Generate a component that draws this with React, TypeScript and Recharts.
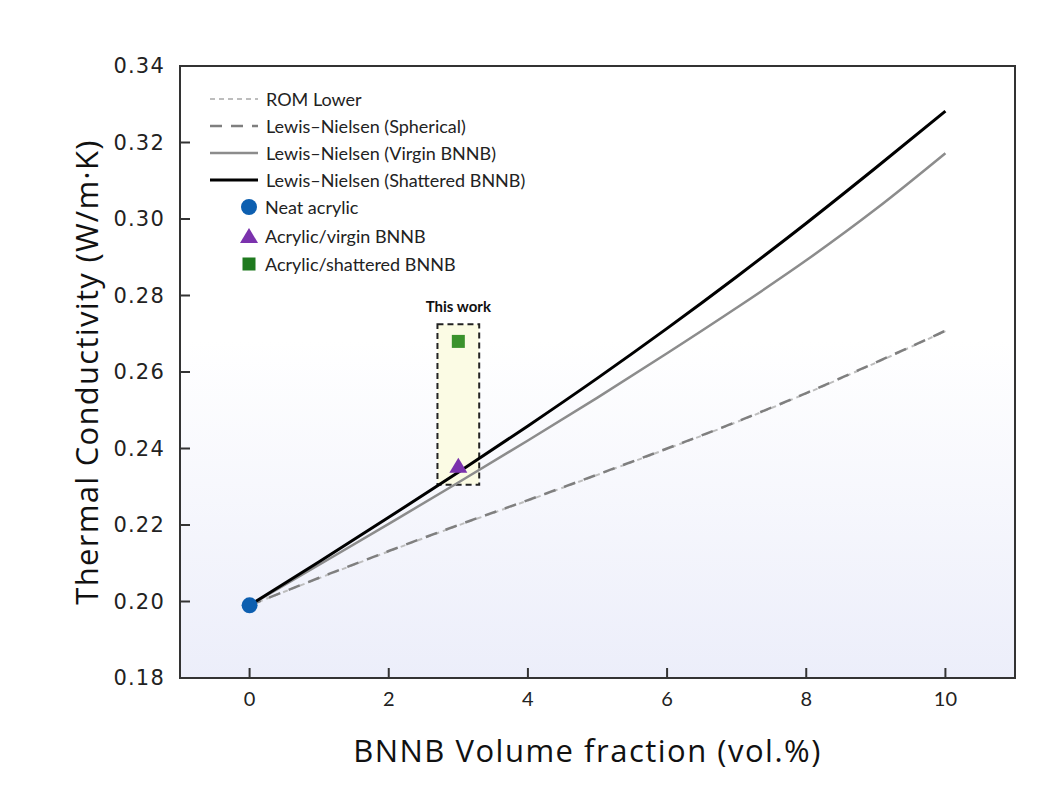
import { ComposedChart, Line, Scatter, XAxis, YAxis, ReferenceArea, CartesianGrid, Label } from "recharts"

// BNNB loading (vol.%) and model predictions of thermal conductivity (W/m·K)
const volFraction = [0, 1, 2, 3, 4, 5, 6, 7, 8, 9, 10]
const romLower = [0.199, 0.2061, 0.2131, 0.2199, 0.2264, 0.2331, 0.2399, 0.2469, 0.2544, 0.2624, 0.2707]
const lnSpherical = [0.199, 0.2062, 0.2132, 0.22, 0.2265, 0.2332, 0.24, 0.247, 0.2545, 0.2625, 0.2708]
const lnVirgin = [0.199, 0.2096, 0.2203, 0.2311, 0.2421, 0.2533, 0.2649, 0.2768, 0.2892, 0.3026, 0.3172]
const lnShattered = [0.199, 0.2104, 0.222, 0.2338, 0.2459, 0.2584, 0.2714, 0.2849, 0.2989, 0.3134, 0.3282]

// measured samples
const neatAcrylic = [{ x: 0, y: 0.199 }]
const acrylicVirgin = [{ x: 3, y: 0.2355 }]
const acrylicShattered = [{ x: 3, y: 0.268 }]

// "This work" highlight box
const thisWorkX = [2.7, 3.3]
const thisWorkY = [0.2305, 0.2725]

const xTicks = [0, 2, 4, 6, 8, 10]
const yTicks = [0.18, 0.2, 0.22, 0.24, 0.26, 0.28, 0.3, 0.32, 0.34]

const modelData = volFraction.map((x, i) => ({
  x,
  rom: romLower[i],
  sph: lnSpherical[i],
  virgin: lnVirgin[i],
  shattered: lnShattered[i],
}))

const SANS = "Lato, 'Open Sans', sans-serif"
const TITLE = "'Open Sans', sans-serif"
const BLUE = "#0d5fb0"
const PURPLE = "#7b32ad"
const GREEN = "#3a922c"

const lineItems = [
  { label: "ROM Lower", stroke: "#bdbdbd", dash: "5 4", width: 2 },
  { label: "Lewis–Nielsen (Spherical)", stroke: "#7f7f7f", dash: "12 9", width: 2.5 },
  { label: "Lewis–Nielsen (Virgin BNNB)", stroke: "#8c8c8c", dash: undefined, width: 2.5 },
  { label: "Lewis–Nielsen (Shattered BNNB)", stroke: "#000000", dash: undefined, width: 3 },
]
const markerItems = [
  { label: "Neat acrylic", kind: "circle", color: BLUE },
  { label: "Acrylic/virgin BNNB", kind: "triangle", color: PURPLE },
  { label: "Acrylic/shattered BNNB", kind: "square", color: "#1f7a1f" },
]

function Marker({ kind, color, cx, cy }: { kind: string; color: string; cx: number; cy: number }) {
  if (kind === "circle") return <circle cx={cx} cy={cy} r={8} fill={color} />
  if (kind === "triangle")
    return <polygon points={`${cx},${cy - 8} ${cx + 9},${cy + 7} ${cx - 9},${cy + 7}`} fill={color} />
  return <rect x={cx - 6.5} y={cy - 6.5} width={13} height={13} fill={color} />
}

function LegendBox() {
  return (
    <div style={{ position: "absolute", left: 210, top: 85, fontFamily: SANS, fontSize: 18, color: "#222" }}>
      {lineItems.map((it) => (
        <div key={it.label} style={{ display: "flex", alignItems: "center", height: 27 }}>
          <svg width={56} height={10}>
            <line x1={0} x2={48} y1={5} y2={5} stroke={it.stroke} strokeWidth={it.width} strokeDasharray={it.dash} />
          </svg>
          <span>{it.label}</span>
        </div>
      ))}
      {markerItems.map((it) => (
        <div key={it.label} style={{ display: "flex", alignItems: "center", height: 28.5 }}>
          <svg width={55} height={20}>
            <Marker kind={it.kind} color={it.color} cx={39} cy={10} />
          </svg>
          <span>{it.label}</span>
        </div>
      ))}
    </div>
  )
}

const YTitle = (props: any) => {
  const { x, y, height } = props.viewBox
  return (
    <text
      x={x + 86}
      y={y + height / 2}
      transform={`rotate(-90, ${x + 86}, ${y + height / 2})`}
      textAnchor="middle"
      dominantBaseline="central"
      fontFamily={TITLE}
      fontSize={31}
      letterSpacing={1.3}
      fill="#111"
    >
      Thermal Conductivity (W/m·K)
    </text>
  )
}

const XTitle = (props: any) => {
  const { x, y, width } = props.viewBox
  return (
    <text x={x + width / 2 - 10} y={y + 84} textAnchor="middle" fontFamily={TITLE} fontSize={31} letterSpacing={1.5} fill="#111">
      BNNB Volume fraction (vol.%)
    </text>
  )
}

export default function App() {
  return (
    <div style={{ position: "absolute", left: 0, top: 0, width: 1059, height: 806, background: "#fff" }}>
      <ComposedChart width={1059} height={806} data={modelData} margin={{ top: 66, right: 44, bottom: 0, left: 0 }}>
        <defs>
          <linearGradient id="plotBg" x1="0" y1="0" x2="0" y2="1">
            <stop offset="0" stopColor="#ffffff" />
            <stop offset="0.45" stopColor="#ffffff" />
            <stop offset="1" stopColor="#eceefa" />
          </linearGradient>
        </defs>
        <CartesianGrid horizontal={false} vertical={false} fill="url(#plotBg)" fillOpacity={1} />
        <XAxis
          dataKey="x"
          type="number"
          domain={[-1, 11]}
          ticks={xTicks}
          height={128}
          tickSize={-10}
          tickMargin={24}
          axisLine={{ stroke: "#333", strokeWidth: 2 }}
          tickLine={{ stroke: "#333", strokeWidth: 2 }}
          tick={{ fontFamily: SANS, fontSize: 20, fill: "#222" }}
        >
          <Label content={XTitle} />
        </XAxis>
        <YAxis
          type="number"
          domain={[0.18, 0.34]}
          ticks={yTicks}
          width={180}
          tickSize={-10}
          tickMargin={25}
          tickFormatter={(v: number) => v.toFixed(2)}
          axisLine={{ stroke: "#333", strokeWidth: 2 }}
          tickLine={{ stroke: "#333", strokeWidth: 2 }}
          tick={{ fontFamily: "'DejaVu Sans', sans-serif", fontSize: 21, letterSpacing: 1.2, fill: "#222" }}
        >
          <Label content={YTitle} />
        </YAxis>
        <ReferenceArea x1={-1} x2={11} y1={0.18} y2={0.34} fill="none" stroke="#333" strokeWidth={2} />
        <ReferenceArea
          x1={thisWorkX[0]}
          x2={thisWorkX[1]}
          y1={thisWorkY[0]}
          y2={thisWorkY[1]}
          fill="#fbfbe4"
          fillOpacity={1}
          stroke="#222"
          strokeWidth={2}
          strokeDasharray="6 4"
          label={{ value: "This work", position: "top", offset: 12, fontFamily: SANS, fontWeight: 700, fontSize: 15, fill: "#111" }}
        />
        <Line dataKey="rom" type="monotone" stroke={lineItems[0].stroke} strokeWidth={2} strokeDasharray={lineItems[0].dash} dot={false} isAnimationActive={false} />
        <Line dataKey="sph" type="monotone" stroke={lineItems[1].stroke} strokeWidth={2.5} strokeDasharray={lineItems[1].dash} dot={false} isAnimationActive={false} />
        <Line dataKey="virgin" type="monotone" stroke={lineItems[2].stroke} strokeWidth={2.5} dot={false} isAnimationActive={false} />
        <Line dataKey="shattered" type="monotone" stroke={lineItems[3].stroke} strokeWidth={3} dot={false} isAnimationActive={false} />
        <Scatter data={neatAcrylic} dataKey="y" isAnimationActive={false} shape={(p: any) => <Marker kind="circle" color={BLUE} cx={p.cx} cy={p.cy} />} />
        <Scatter data={acrylicVirgin} dataKey="y" isAnimationActive={false} shape={(p: any) => <Marker kind="triangle" color={PURPLE} cx={p.cx} cy={p.cy} />} />
        <Scatter data={acrylicShattered} dataKey="y" isAnimationActive={false} shape={(p: any) => <Marker kind="square" color={GREEN} cx={p.cx} cy={p.cy} />} />
      </ComposedChart>
      <LegendBox />
    </div>
  )
}
